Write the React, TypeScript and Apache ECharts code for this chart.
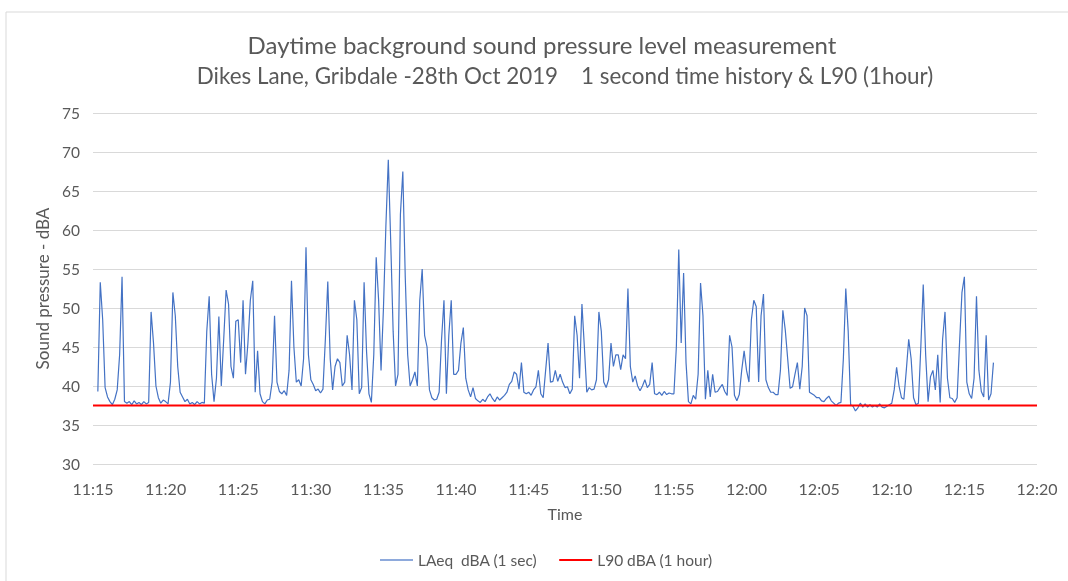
import React, { useEffect, useRef } from "react";
import * as echarts from "echarts";

// 10-second samples, one array per 5-minute block (minutes after 11:15)
const SAMPLE_SECONDS = 10;
const laeq1115 = [null, null, 39.3, 53.3, 48.5, 39.8, 38.6, 38.0, 37.6, 38.3, 39.5, 44.0, 54.0, 38.0, 37.8, 38.0, 37.6, 38.1, 37.7, 37.9, 37.6, 38.0, 37.7, 37.9, 49.5, 45.5, 40.0, 38.5, 37.8, 38.2];
const laeq1120 = [38.0, 37.7, 40.5, 52.0, 49.0, 42.5, 39.2, 38.6, 38.0, 38.3, 37.7, 37.9, 37.6, 38.0, 37.7, 37.9, 37.8, 47.0, 51.5, 41.5, 38.0, 41.0, 48.9, 40.0, 46.0, 52.3, 50.5, 42.5, 41.0, 48.3];
const laeq1125 = [48.5, 43.0, 51.0, 41.5, 45.5, 51.0, 53.5, 39.2, 44.5, 39.0, 38.0, 37.7, 38.2, 38.3, 40.5, 49.0, 40.5, 39.3, 39.0, 39.4, 38.8, 42.0, 53.5, 45.0, 40.5, 40.8, 40.0, 43.5, 57.8, 44.0];
const laeq1130 = [40.8, 40.2, 39.4, 39.6, 39.1, 39.6, 46.0, 53.4, 43.5, 39.5, 42.5, 43.5, 43.0, 40.0, 40.5, 46.5, 44.0, 39.5, 51.0, 48.5, 39.0, 39.8, 53.3, 44.5, 39.0, 37.9, 44.0, 56.5, 51.0, 42.0];
const laeq1135 = [50.0, 60.5, 69.0, 58.5, 47.0, 40.0, 41.5, 62.0, 67.5, 54.0, 44.0, 40.0, 40.8, 41.8, 40.0, 51.0, 55.0, 46.5, 45.0, 39.5, 38.5, 38.2, 38.3, 39.2, 46.0, 51.0, 39.0, 46.5, 51.0, 41.5];
const laeq1140 = [41.5, 42.0, 45.5, 47.5, 41.0, 39.5, 38.6, 39.8, 38.4, 38.1, 37.9, 38.3, 38.0, 38.6, 39.0, 38.4, 38.0, 38.6, 38.2, 38.5, 38.8, 39.2, 40.2, 40.6, 41.8, 41.5, 39.6, 43.0, 39.2, 39.0];
const laeq1145 = [39.2, 38.8, 39.5, 39.9, 42.0, 39.0, 38.5, 42.0, 45.5, 40.5, 40.6, 42.0, 40.6, 41.5, 40.5, 39.8, 39.9, 39.0, 39.6, 49.0, 46.5, 41.0, 50.5, 45.0, 39.2, 39.8, 39.5, 39.6, 40.8, 49.5];
const laeq1150 = [47.0, 40.5, 39.8, 40.8, 45.5, 42.5, 44.0, 44.0, 42.1, 44.0, 43.5, 52.5, 42.5, 40.5, 41.3, 40.0, 39.4, 40.0, 40.8, 39.8, 40.2, 43.0, 39.0, 38.9, 39.2, 38.8, 39.3, 38.9, 39.1, 39.0];
const laeq1155 = [39.0, 45.0, 57.5, 45.5, 54.5, 43.0, 38.0, 37.7, 38.8, 38.3, 41.5, 53.2, 49.0, 38.3, 42.0, 38.6, 41.5, 39.2, 39.3, 39.8, 40.2, 39.3, 38.8, 46.5, 45.0, 38.8, 38.1, 38.9, 42.0, 44.5];
const laeq1200 = [42.0, 40.5, 48.5, 51.0, 50.2, 40.5, 49.0, 51.8, 40.8, 39.8, 39.2, 39.2, 38.9, 38.9, 42.0, 49.7, 47.2, 43.5, 39.7, 39.9, 41.5, 43.0, 39.6, 42.5, 50.0, 49.0, 39.2, 39.0, 38.8, 38.5];
const laeq1205 = [38.5, 38.1, 38.0, 38.4, 38.7, 38.1, 37.8, 37.5, 37.8, 37.9, 43.5, 52.5, 47.0, 37.6, 37.4, 36.8, 37.2, 37.8, 37.3, 37.7, 37.3, 37.6, 37.3, 37.5, 37.3, 37.7, 37.3, 37.2, 37.4, 37.6];
const laeq1210 = [37.8, 39.5, 42.4, 40.0, 38.5, 38.3, 42.0, 46.0, 43.5, 38.5, 37.6, 37.8, 45.0, 53.0, 44.0, 38.0, 41.2, 42.0, 39.5, 44.0, 37.9, 46.0, 49.5, 41.0, 38.5, 38.4, 37.9, 38.5, 45.5, 52.0];
const laeq1215 = [54.0, 40.5, 39.0, 38.4, 41.0, 51.5, 42.0, 39.3, 38.6, 46.5, 38.2, 39.0, 43.0];

const L90 = 37.5;
const timeTicks = ["11:15", "11:20", "11:25", "11:30", "11:35", "11:40", "11:45", "11:50", "11:55", "12:00", "12:05", "12:10", "12:15", "12:20"];
const TITLE1 = "Daytime background sound pressure level measurement";
const TITLE2 = "Dikes Lane, Gribdale -28th Oct 2019    1 second time history & L90 (1hour)";

const FONT = "Lato, 'Open Sans', sans-serif";
const GREY = "#595959";

export default function App() {
  const ref = useRef<HTMLDivElement>(null);
  useEffect(() => {
    if (!ref.current) return;
    const chart = echarts.init(ref.current, undefined, { renderer: "svg" });
    const blocks = [laeq1115, laeq1120, laeq1125, laeq1130, laeq1135, laeq1140, laeq1145, laeq1150, laeq1155, laeq1200, laeq1205, laeq1210, laeq1215];
    const laeq: [number, number | null][] = [];
    let idx = 0;
    blocks.forEach((b) => b.forEach((v) => { laeq.push([(idx * SAMPLE_SECONDS) / 60, v]); idx++; }));
    const maxMin = (timeTicks.length - 1) * 5;
    chart.setOption({
      animation: false,
      textStyle: { fontFamily: FONT },
      title: [
        { text: TITLE1, left: 537, top: 27, padding: 5, textAlign: "center", textStyle: { fontFamily: FONT, fontSize: 24, fontWeight: "normal", color: GREY } },
        { text: TITLE2, left: 560, top: 59, padding: 5, textAlign: "center", textStyle: { fontFamily: FONT, fontSize: 22.4, fontWeight: "normal", color: GREY } },
      ],
      graphic: [
        { type: "rect", shape: { x: 6, y: 12, width: 1080, height: 600 }, style: { fill: "none", stroke: "#d9d9d9", lineWidth: 1 }, silent: true },
      ],
      legend: {
        bottom: 8,
        left: 375,
        itemWidth: 33,
        itemHeight: 2,
        itemGap: 22,
        icon: "rect",
        textStyle: { fontFamily: FONT, fontSize: 15.5, color: GREY },
        data: [
          { name: "LAeq  dBA (1 sec)", itemStyle: { color: "#8eaadc" } },
          { name: "L90 dBA (1 hour)", itemStyle: { color: "#ff0000" } },
        ],
      },
      grid: { left: 93, right: 31, top: 113, height: 351, containLabel: false },
      xAxis: {
        type: "value",
        min: 0,
        max: maxMin,
        interval: 5,
        name: "Time",
        nameLocation: "middle",
        nameGap: 41,
        nameTextStyle: { fontFamily: FONT, fontSize: 16, color: GREY },
        axisLine: { show: false },
        axisTick: { show: false },
        splitLine: { show: false },
        axisLabel: { color: GREY, fontSize: 16, margin: 16, fontFamily: FONT, formatter: (v: number) => timeTicks[Math.round(v / 5)] ?? "" },
      },
      yAxis: {
        type: "value",
        min: 30,
        max: 75,
        interval: 5,
        name: "Sound pressure - dBA",
        nameLocation: "middle",
        nameGap: 38,
        nameTextStyle: { fontFamily: FONT, fontSize: 17, color: GREY },
        axisLine: { show: false },
        axisTick: { show: false },
        splitLine: { lineStyle: { color: "#d9d9d9", width: 1 } },
        axisLabel: { color: GREY, fontSize: 15.5, margin: 13, fontFamily: FONT },
      },
      series: [
        {
          name: "LAeq  dBA (1 sec)",
          type: "line",
          data: laeq,
          symbol: "none",
          connectNulls: false,
          lineStyle: { color: "#4472c4", width: 1.2 },
          itemStyle: { color: "#4472c4" },
          z: 2,
        },
        {
          name: "L90 dBA (1 hour)",
          type: "line",
          data: [[0, L90], [maxMin, L90]],
          symbol: "none",
          lineStyle: { color: "#ff0000", width: 2 },
          itemStyle: { color: "#ff0000" },
          z: 3,
        },
      ],
    });
    return () => chart.dispose();
  }, []);
  return <div ref={ref} style={{ position: "fixed", left: 0, top: 0, width: 1068, height: 581 }} />;
}
